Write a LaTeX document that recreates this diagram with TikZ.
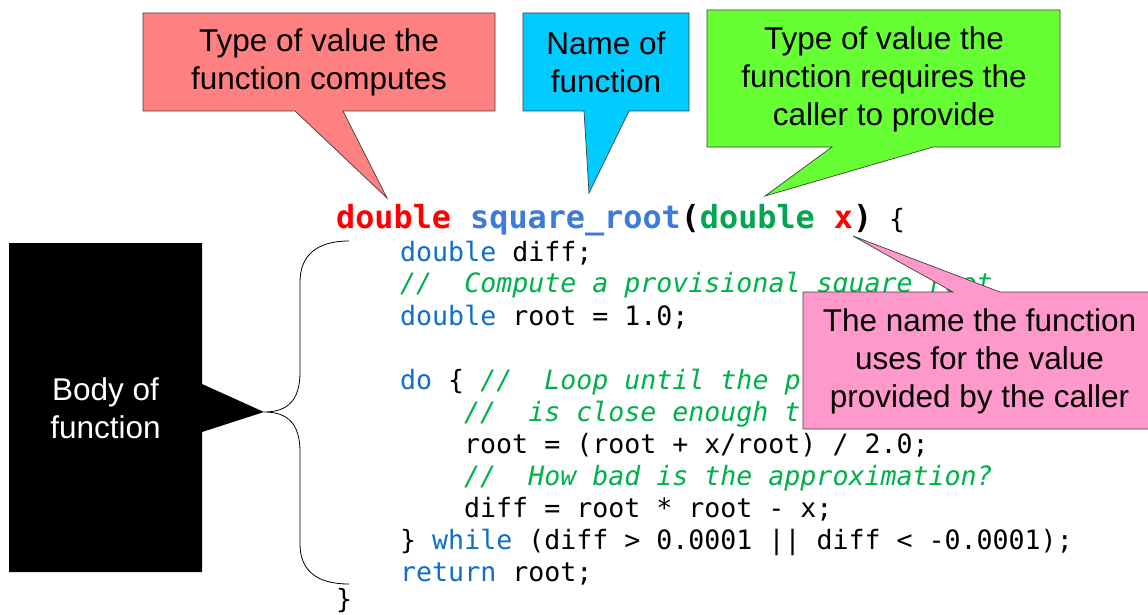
\documentclass[tikz,border=0pt]{standalone}
\usepackage{fontspec}
\setmainfont{Liberation Sans}
\newfontfamily\codefont{DejaVu Sans Mono}
\definecolor{boxred}{HTML}{FF8080}
\definecolor{boxcyan}{HTML}{00CCFF}
\definecolor{boxgreen}{HTML}{66FF33}
\definecolor{boxpink}{HTML}{FF99CC}
\definecolor{hdred}{HTML}{FF0000}
\definecolor{hdblue}{HTML}{3C7BD8}
\definecolor{hdgreen}{HTML}{00A651}
\definecolor{kwblue}{HTML}{0F6FC6}
\definecolor{cmtgreen}{HTML}{00B04A}
\newcommand\ckw[1]{{\color{kwblue}#1}}
\newcommand\ccm[1]{{\color{cmtgreen}\itshape #1}}
\tikzset{
  codeline/.style={anchor=base west, inner sep=0pt, text=black,
    font=\codefont\fontsize{26.6}{32}\selectfont},
  codehead/.style={anchor=base west, inner sep=0pt, text=black,
    font=\codefont\bfseries\fontsize{31.8}{38}\selectfont},
  calloutshape/.style={draw=black!75, line width=0.7pt, line join=miter},
  labeltext/.style={inner sep=0pt, align=center,
    font=\fontsize{31.5}{38}\selectfont},
  bracestyle/.style={draw=black, line width=0.8pt}
}
\begin{document}
\begin{tikzpicture}[x=1pt,y=-1pt]
\path[use as bounding box, clip] (0,0) rectangle (1148,615);
\fill[white] (0,0) rectangle (1148,615);

% ---- code ----
\node[codehead] (head) at (336,228) {{\color{hdred}double} {\color{hdblue}square\_root}({\color{hdgreen}double} {\color{hdred}x})};
\node[codeline] (hbrace) at (889,228) {\{};
\node[codeline] (l0) at (400,261) {\ckw{double} diff;};
\node[codeline] (l1) at (400,292) {\ccm{//~~Compute a provisional square root}};
\node[codeline] (l2) at (400,325) {\ckw{double} root = 1.0;};
\node[codeline] (l4) at (400,389) {\ckw{do} \{ \ccm{//~~Loop until the p}};
\node[codeline] (l5) at (464,421) {\ccm{//~~is close enough t}};
\node[codeline] (l6) at (464,453) {root = (root + x/root) / 2.0;};
\node[codeline] (l7) at (464,485) {\ccm{//~~How bad is the approximation?}};
\node[codeline] (l8) at (464,517) {diff = root * root - x;};
\node[codeline] (l9) at (400,549) {\} \ckw{while} (diff > 0.0001 || diff < -0.0001);};
\node[codeline] (l10) at (400,581) {\ckw{return} root;};
\node[codeline] (l11) at (336,608) {\}};

% ---- callout: type of value ----
\coordinate (tipA) at (387,198);
\path[calloutshape, fill=boxred] (143,13) -- (495,13) -- (495,111) -- (343,111)
  -- (tipA) -- (295,111) -- (143,111) -- cycle;
\node[labeltext] (lblA) at (319,62) {Type of value the\\function computes};

% ---- callout: name of function ----
\coordinate (tipB) at (589,193);
\path[calloutshape, fill=boxcyan] (523,13) -- (689,13) -- (689,111) -- (629,111)
  -- (tipB) -- (584,111) -- (523,111) -- cycle;
\node[labeltext] (lblB) at (606,62) {Name of\\function};

% ---- callout: parameter type ----
\coordinate (tipC) at (765,196);
\path[calloutshape, fill=boxgreen] (707,10) -- (1060,10) -- (1060,147) -- (933,147)
  -- (tipC) -- (832,147) -- (707,147) -- cycle;
\node[labeltext] (lblC) at (884,79) {Type of value the\\function requires the\\caller to provide};

% ---- callout: parameter name ----
\coordinate (tipD) at (853,236);
\path[calloutshape, fill=boxpink] (803,292) -- (953,292) -- (tipD) -- (1000,292)
  -- (1165,292) -- (1165,429) -- (803,429) -- cycle;
\node[labeltext] (lblD) at (979.5,361) {The name the function\\uses for the value\\provided by the caller};

% ---- body callout ----
\coordinate (tipE) at (264,412);
\path[fill=black] (9,243) -- (202,243) -- (202,384) -- (tipE) -- (202,432)
  -- (202,572) -- (9,572) -- cycle;
\node[labeltext, text=white] (lblE) at (105.5,408) {Body of\\function};

% ---- brace ----
\coordinate (braceTop) at (349,241);
\coordinate (braceBot) at (349,584);
\path[bracestyle] (braceTop) .. controls (316,241) and (300,256) .. (300,282)
  -- (300,372) .. controls (300,400) and (288,412) .. (tipE)
  .. controls (288,412) and (300,424) .. (300,452)
  -- (300,544) .. controls (300,570) and (316,584) .. (braceBot);
\end{tikzpicture}
\end{document}
